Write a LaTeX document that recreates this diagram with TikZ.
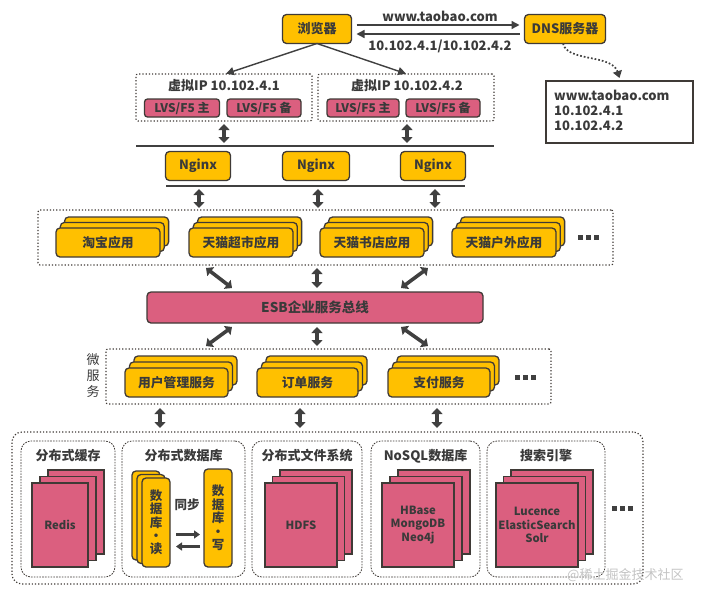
\documentclass[tikz,border=0pt]{standalone}
\usepackage{fontspec}
\setmainfont{Noto Sans CJK SC}
\usetikzlibrary{arrows.meta}
\definecolor{gold}{HTML}{FFC000}
\definecolor{pinkc}{HTML}{DB5F7F}
\definecolor{edgec}{HTML}{3F3A36}
\definecolor{txt}{HTML}{3A3A3A}
\definecolor{arrowc}{HTML}{404040}
\definecolor{wm}{HTML}{C4C4C4}
\newcommand\stk[9]{%
  \draw[#2] ({#3+2*(#7)},{#4+2*(#8)}) rectangle ++(#5,#6);
  \draw[#2] ({#3+(#7)},{#4+(#8)}) rectangle ++(#5,#6);
  \node[#2,anchor=north west,minimum width=#5pt,minimum height=#6pt,align=center] (#1) at (#3,#4) {#9};
}
\newcommand\sqdots[2]{%
  \foreach \dx in {-8,0,8} {\fill[arrowc] ({#1+\dx-2.5},{#2-2.5}) rectangle ++(5,5);}
}
\begin{document}
\begin{tikzpicture}[x=1pt,y=-1pt,
  ybox/.style={draw=edgec, fill=gold, line width=1.3pt, rounded corners=4pt, text=txt,
    font=\bfseries\fontsize{12.8pt}{13pt}\selectfont, inner sep=0pt, outer sep=0pt},
  pbox/.style={draw=edgec, fill=pinkc, line width=1.3pt, rounded corners=3pt, text=txt,
    font=\bfseries\fontsize{12pt}{13pt}\selectfont, inner sep=0pt, outer sep=0pt},
  pstk/.style={draw=edgec, fill=pinkc, line width=1.4pt, text=txt,
    font=\bfseries\fontsize{11.3pt}{13.6pt}\selectfont, inner sep=0pt, outer sep=0pt},
  dotbox/.style={draw=edgec, dotted, line width=1.2pt, rounded corners=2pt, inner sep=0pt, outer sep=0pt},
  dashbox/.style={draw=edgec, dash pattern=on 1.6pt off 1.2pt, line width=0.8pt, rounded corners=10pt, inner sep=0pt, outer sep=0pt},
  dbl/.style={draw=arrowc, line width=3.6pt, {Triangle[width=11pt,length=6pt]}-{Triangle[width=11pt,length=6pt]}},
  thinarrow/.style={draw=arrowc, line width=1.4pt, -{Triangle[width=8pt,length=8pt]}},
  title/.style={text=txt, font=\bfseries\fontsize{13pt}{14pt}\selectfont, inner sep=0pt},
  lbl/.style={text=txt, font=\bfseries\fontsize{13pt}{14pt}\selectfont, inner sep=0pt},
  bar/.style={draw=arrowc, line width=1.6pt},
]
\useasboundingbox (0,0) rectangle (703,589);
\fill[white] (0,0) rectangle (703,589);

% top row
\node[ybox, minimum width=69pt, minimum height=29pt, font=\bfseries\fontsize{13pt}{14pt}\selectfont] (browser) at (317,29) {浏览器};
\node[ybox, minimum width=81pt, minimum height=29pt, font=\bfseries\fontsize{13pt}{14pt}\selectfont] (dns) at (565,29) {DNS服务器};
\draw[thinarrow] ([xshift=5pt,yshift=4pt]browser.east) -- ([xshift=-5pt,yshift=4pt]dns.west);
\draw[thinarrow] ([xshift=-5pt,yshift=-5pt]dns.west) -- ([xshift=5pt,yshift=-5pt]browser.east);
\node[lbl] (url) at (440,16) {www.taobao.com};
\node[lbl] (ips) at (440,46) {10.102.4.1/10.102.4.2};

% DNS result
\node[draw=edgec, line width=1.4pt, minimum width=147pt, minimum height=62pt, anchor=north west, outer sep=0pt, inner sep=0pt] (res) at (546,81) {};
\node[lbl, anchor=west] (r1) at (554,95) {www.taobao.com};
\node[lbl, anchor=west] (r2) at (554,111) {10.102.4.1};
\node[lbl, anchor=west] (r3) at (554,126) {10.102.4.2};
\draw[arrowc, dotted, line width=1.7pt, -{Triangle[width=9pt,length=7pt]}] ([xshift=-2pt]dns.south) .. controls (567,62) and (612,54) .. ([yshift=3pt]res.north);

% VIP boxes
\node[dotbox, minimum width=176pt, minimum height=47pt, anchor=north west] (vip1) at (136,74) {};
\node[dotbox, minimum width=176pt, minimum height=47pt, anchor=north west] (vip2) at (318,74) {};
\node[title] (vt1) at (224,86) {虚拟IP 10.102.4.1};
\node[title] (vt2) at (407,86) {虚拟IP 10.102.4.2};
\node[pbox, minimum width=75pt, minimum height=18pt] (lvs1) at (182,108) {LVS/F5 主};
\node[pbox, minimum width=74pt, minimum height=18pt] (lvs2) at (264,108) {LVS/F5 备};
\node[pbox, minimum width=72pt, minimum height=18pt] (lvs3) at (363,108) {LVS/F5 主};
\node[pbox, minimum width=74pt, minimum height=18pt] (lvs4) at (443,108) {LVS/F5 备};
\draw[thinarrow, shorten >=1pt] (browser.south) -- ([xshift=1pt]vip1.north);
\draw[thinarrow, shorten >=1pt] (browser.south) -- (vip2.north -| vt2.north);

% Nginx layer
\coordinate (l1a) at (136,146);
\coordinate (l1b) at (494,146);
\coordinate (l2a) at (166,186);
\coordinate (l2b) at (465,186);
\draw[bar] (l1a) -- (l1b);
\draw[bar] (l2a) -- (l2b);
\draw[dbl] ([yshift=-3pt]vip1.south) -- (vip1.south |- 0,143);
\draw[dbl] ([yshift=-3pt]vip2.south -| vt2.south) -- (vt2.south |- 0,143);
\node[ybox, minimum width=65pt, minimum height=29pt] (ng1) at (198,166) {Nginx};
\node[ybox, minimum width=67pt, minimum height=29pt] (ng2) at (316,166) {Nginx};
\node[ybox, minimum width=65pt, minimum height=29pt] (ng3) at (433,166) {Nginx};

% apps
\node[dotbox, minimum width=575pt, minimum height=55pt, anchor=north west] (apps) at (38,210) {};
\draw[dbl] (199,189) -- (199,208);
\draw[dbl] (318,189) -- (318,208);
\draw[dbl] (435,189) -- (435,208);
\stk{app1}{ybox}{56}{228}{104}{29}{4.3}{-5.5}{淘宝应用}
\stk{app2}{ybox}{189}{228}{104}{29}{4.3}{-5.5}{天猫超市应用}
\stk{app3}{ybox}{320}{228}{104}{29}{4.3}{-5.5}{天猫书店应用}
\stk{app4}{ybox}{452}{228}{104}{29}{4.3}{-5.5}{天猫户外应用}
\sqdots{588}{237}

% ESB
\node[pbox, minimum width=336pt, minimum height=31pt, anchor=north west, rounded corners=4pt,
  font=\bfseries\fontsize{13.5pt}{14pt}\selectfont] (esb) at (147,292) {ESB企业服务总线};
\draw[dbl] (206,268) -- (232,288);
\draw[dbl] (317,268) -- (317,288);
\draw[dbl] (428,268) -- (401,288);
\draw[dbl] (232,327) -- (206,346);
\draw[dbl] (317,327) -- (317,346);
\draw[dbl] (401,327) -- (428,346);

% micro services
\node[dotbox, minimum width=445pt, minimum height=55pt, anchor=north west] (micro) at (106,349) {};
\node[text=txt, font=\fontsize{13pt}{16pt}\selectfont, align=center, inner sep=0pt] (wfw) at (93,376) {微\\服\\务};
\stk{svc1}{ybox}{125}{368}{103}{29}{4.5}{-6}{用户管理服务}
\stk{svc2}{ybox}{257}{368}{101}{29}{4.5}{-6}{订单服务}
\stk{svc3}{ybox}{388}{368}{102}{29}{4.5}{-6}{支付服务}
\sqdots{525}{377}
\draw[dbl] (160,408) -- (160,428);
\draw[dbl] (300,408) -- (300,428);
\draw[dbl] (437,408) -- (437,428);

% storage
\node[dotbox, rounded corners=10pt, minimum width=631pt, minimum height=152pt, anchor=north west] (store) at (12,432) {};
\node[dashbox, minimum width=94pt, minimum height=136pt, anchor=north west] (c1) at (21,441) {};
\node[dashbox, minimum width=123pt, minimum height=136pt, anchor=north west] (c2) at (122,441) {};
\node[dashbox, minimum width=110pt, minimum height=136pt, anchor=north west] (c3) at (252,441) {};
\node[dashbox, minimum width=109pt, minimum height=136pt, anchor=north west] (c4) at (371,441) {};
\node[dashbox, minimum width=118pt, minimum height=136pt, anchor=north west] (c5) at (487,441) {};
\node[title] (t1) at (c1.north |- 0,456) {分布式缓存};
\node[title] (t2) at (c2.north |- 0,456) {分布式数据库};
\node[title] (t3) at (c3.north |- 0,456) {分布式文件系统};
\node[title] (t4) at (c4.north |- 0,456) {NoSQL数据库};
\node[title] (t5) at (c5.north |- 0,456) {搜索引擎};
\stk{redis}{pstk}{32}{483}{56}{84}{8}{-6.5}{Redis}
\stk{hdfs}{pstk}{265}{483}{72}{84}{7.5}{-6.5}{HDFS}
\stk{nosql}{pstk}{382}{483}{72}{84}{8}{-6.5}{HBase\\MongoDB\\Neo4j}
\stk{search}{pstk}{496}{483}{82}{84}{7.5}{-6.5}{Lucence\\ElasticSearch\\Solr}
\stk{dbread}{ybox, font=\bfseries\fontsize{12.5pt}{13.3pt}\selectfont}{142}{478}{28}{89}{-5}{-3.5}{数\\据\\库\\·\\读}
\node[ybox, font=\bfseries\fontsize{12.5pt}{13.6pt}\selectfont, anchor=north west, minimum width=28pt, minimum height=98pt, align=center] (dbwrite) at (204,469) {数\\据\\库\\·\\写};
\node[title, font=\bfseries\fontsize{12.5pt}{14pt}\selectfont] (sync) at (187,505) {同步};
\draw[arrowc, line width=2.2pt, -{Triangle[width=8pt,length=6pt]}] ([xshift=6pt,yshift=-12pt]dbread.east) -- ([xshift=-4pt,yshift=-12pt]dbwrite.west |- dbread.east);
\draw[arrowc, line width=2.2pt, -{Triangle[width=8pt,length=6pt]}] ([xshift=-4pt,yshift=-24pt]dbwrite.west |- dbread.east) -- ([xshift=6pt,yshift=-24pt]dbread.east);
\sqdots{622}{508}

\node[text=wm, font=\fontsize{13pt}{15pt}\selectfont, anchor=west, inner sep=0pt] (wmark) at (567,575) {@稀土掘金技术社区};
\end{tikzpicture}
\end{document}
